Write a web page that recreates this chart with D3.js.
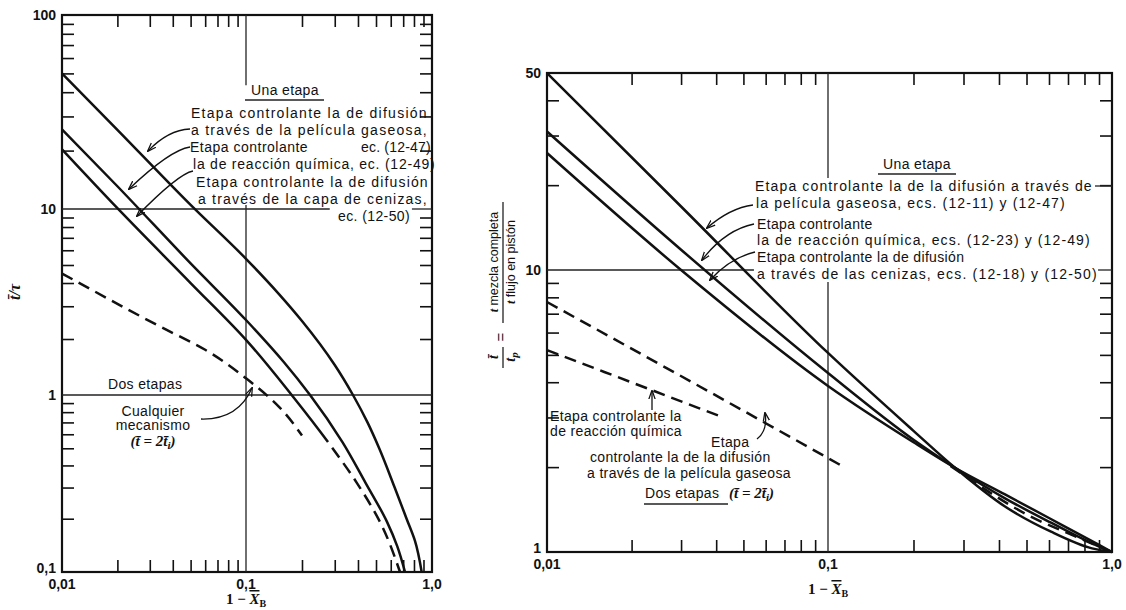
<!DOCTYPE html>
<html>
<head>
<meta charset="UTF-8">
<script src="https://d3js.org/d3.v7.min.js"></script>
<style>
  body { margin: 0; background: #fff; }
  svg text { font-family: "Liberation Sans", Arial, sans-serif; fill: #111; }
  .lbl { font-size: 14px; letter-spacing: 0.35px; }
  .tick-lbl { font-size: 14px; font-weight: bold; }
  .curve { fill: none; stroke: #111; stroke-width: 2.5; }
  .dash { stroke-dasharray: 12, 7; }
  .grid { stroke: #222; stroke-width: 1.3; }
  .frame { fill: none; stroke: #111; stroke-width: 2.2; }
  .arrow { fill: none; stroke: #111; stroke-width: 1.3; }
  .serif { font-family: "Liberation Serif", "DejaVu Serif", serif !important; }
</style>
</head>
<body>
<div id="chart"></div>
<script>
// ---- data: [1 - X_B, value] ----
// left panel, t/tau (mixed flow, one stage)
var leftFilm = [[0.01, 50], [0.02, 25.6], [0.05, 10.5], [0.1, 5.4], [0.15, 3.5], [0.2, 2.5], [0.3, 1.45], [0.376, 1], [0.45, 0.7], [0.52, 0.5], [0.63, 0.3], [0.73, 0.2], [0.81, 0.15], [0.88, 0.1]];
var leftReaction = [[0.01, 25.7], [0.02, 13.1], [0.05, 5.1], [0.1, 2.53], [0.16, 1.5], [0.221, 1], [0.33, 0.542], [0.44, 0.318], [0.573, 0.192], [0.65, 0.14], [0.716, 0.1]];
var leftAsh = [[0.01, 20.3], [0.02, 10.1], [0.05, 4.0], [0.1, 1.98], [0.176, 1], [0.276, 0.542]];
var leftAshTail = [[0.395, 0.318], [0.525, 0.192], [0.673, 0.1]];   // drawn dashed
var leftTwoStage = [[0.01, 4.5], [0.0345, 2.32], [0.06, 1.75], [0.1, 1.23], [0.15, 0.86], [0.2, 0.59]];

// right panel, t_mixed / t_plug
var rightFilm = [[0.01, 50], [0.03, 16.8], [0.1, 5.08], [0.2, 2.69], [0.28, 1.99], [0.42, 1.45], [0.61, 1.18], [0.85, 1.03], [1, 1]];
var rightReaction = [[0.01, 31], [0.03, 11.8], [0.1, 4.31], [0.2, 2.5], [0.28, 1.99], [0.42, 1.55], [0.61, 1.27], [0.91, 1.04], [1, 1]];
var rightAsh = [[0.01, 26], [0.03, 10], [0.1, 3.88], [0.2, 2.45], [0.28, 1.99], [0.42, 1.6], [0.6, 1.32], [0.9, 1.06], [1, 1]];
var rightTwoFilm = [[0.01, 7.7], [0.0445, 3.38], [0.11, 2.04]];
var rightTwoReaction = [[0.01, 5.2], [0.0236, 3.75], [0.042, 3.01]];
var rightTwoTail = [[0.27, 2.02], [0.5, 1.36], [0.8, 1.1], [0.97, 1.01]];

// ticks
var xMinor = [0.02, 0.03, 0.04, 0.05, 0.06, 0.07, 0.08, 0.09, 0.2, 0.3, 0.4, 0.5, 0.6, 0.7, 0.8, 0.9];
var yMinorLeft = [0.2, 0.3, 0.4, 0.5, 0.6, 0.7, 0.8, 0.9, 2, 3, 4, 5, 6, 7, 8, 9, 20, 30, 40, 50, 60, 70, 80, 90];
var yMinorRight = [2, 3, 4, 5, 6, 7, 8, 9, 20, 30, 40];
var xLabels = [[0.01, "0,01"], [0.1, "0,1"], [1, "1,0"]];
var yLabelsLeft = [[100, "100"], [10, "10"], [1, "1"], [0.1, "0,1"]];
var yLabelsRight = [[50, "50"], [10, "10"], [1, "1"]];

var svg = d3.select("#chart").append("svg").attr("width", 1126).attr("height", 610);

var defs = svg.append("defs");
defs.append("marker").attr("id", "ah")
  .attr("viewBox", "0 -5 10 10").attr("refX", 9).attr("refY", 0)
  .attr("markerWidth", 9).attr("markerHeight", 9).attr("markerUnits", "userSpaceOnUse")
  .attr("orient", "auto")
  .append("path").attr("d", "M0,-3.5L10,0L0,3.5").attr("fill", "none").attr("stroke", "#111").attr("stroke-width", 1.4);

// scales (scan is slightly uneven, so piecewise log)
var xL = d3.scaleLog().domain([0.01, 0.1, 1]).range([62, 246, 432]);
var yL = d3.scaleLog().domain([100, 10, 1, 0.1]).range([15, 209, 395, 572]);
var xR = d3.scaleLog().domain([0.01, 0.1, 1]).range([547, 828, 1112]);
var yR = d3.scaleLog().domain([50, 10, 1]).range([73, 270, 552]);

function frame(x, y, yt, xlab, ylab, titleY) {
  var g = svg.append("g");
  var xr = x.range(), yr = y.range();
  var x0 = xr[0], x1 = xr[xr.length - 1], y0 = yr[0], y1 = yr[yr.length - 1];
  var fix = function(a) {
    a.select(".domain").remove();
    a.selectAll("line").attr("stroke", "#111").attr("stroke-width", 1.6);
  };
  g.append("g").attr("transform", "translate(0," + y1 + ")")
    .call(d3.axisBottom(x).tickValues(xMinor).tickSizeInner(-12).tickSizeOuter(0).tickFormat("")).call(fix);
  g.append("g").attr("transform", "translate(0," + y0 + ")")
    .call(d3.axisTop(x).tickValues(xMinor).tickSizeInner(-12).tickSizeOuter(0).tickFormat("")).call(fix);
  g.append("g").attr("transform", "translate(" + x0 + ",0)")
    .call(d3.axisLeft(y).tickValues(yt).tickSizeInner(-12).tickSizeOuter(0).tickFormat("")).call(fix);
  g.append("g").attr("transform", "translate(" + x1 + ",0)")
    .call(d3.axisRight(y).tickValues(yt).tickSizeInner(-12).tickSizeOuter(0).tickFormat("")).call(fix);
  g.append("rect").attr("class", "frame")
    .attr("x", x0).attr("y", y0).attr("width", x1 - x0).attr("height", y1 - y0);

  g.selectAll(".xl").data(xlab).enter().append("text").attr("class", "tick-lbl")
    .attr("x", function(d) { return x(d[0]); }).attr("y", y1 + 17)
    .attr("text-anchor", "middle").text(function(d) { return d[1]; });
  g.selectAll(".yl").data(ylab).enter().append("text").attr("class", "tick-lbl")
    .attr("x", x0 - 6).attr("y", function(d, i) { return y(d[0]) + (i === ylab.length - 1 ? 1 : 5); })
    .attr("text-anchor", "end").text(function(d) { return d[1]; });

  // 1 - X_B title
  var t = g.append("text").attr("class", "serif")
    .attr("x", x(0.1)).attr("y", titleY).attr("text-anchor", "middle")
    .style("font-size", "15px").style("font-weight", "bold");
  t.append("tspan").text("1 \u2212 ");
  t.append("tspan").style("font-style", "italic").style("text-decoration", "overline").text("X");
  t.append("tspan").attr("dy", 3).style("font-size", "10px").text("B");
  return g;
}

function seg(x, y, a, b) {
  // grid segment between two data points
  svg.append("line").attr("class", "grid")
    .attr("x1", x(a[0])).attr("y1", y(a[1])).attr("x2", x(b[0])).attr("y2", y(b[1]));
}

function curve(x, y, data, kind, dashed) {
  var line = d3.line().x(function(d) { return x(d[0]); }).y(function(d) { return y(d[1]); })
    .curve(kind);
  return svg.append("path").datum(data).attr("class", "curve" + (dashed ? " dash" : "")).attr("d", line);
}

// one smooth path, solid up to the last solid point and dashed after it
function curveSplit(x, y, solid, tail, kind) {
  var p = curve(x, y, solid.concat(tail), kind);
  var node = p.node(), L = node.getTotalLength();
  var target = x(solid[solid.length - 1][0]), lo = 0, hi = L;
  for (var i = 0; i < 30; i++) {
    var mid = (lo + hi) / 2;
    if (node.getPointAtLength(mid).x < target) lo = mid; else hi = mid;
  }
  var pat = [lo];
  for (var s = lo; s < L + 20; s += 19) pat.push(7, 12);
  pat.push(1000);
  p.style("stroke-dasharray", pat.join(","));
}

function arrow(p) {
  svg.append("path").attr("class", "arrow")
    .attr("d", "M" + p[0] + "Q" + p[1] + " " + p[2]).attr("marker-end", "url(#ah)");
}

function lines(rows, anchor) {
  rows.forEach(function(r) {
    var t = svg.append("text").attr("class", "lbl").attr("x", r[0]).attr("y", r[1])
      .attr("text-anchor", anchor || "start").text(r[2]);
    if (r[3]) t.attr("textLength", r[3]).attr("lengthAdjust", "spacing");
  });
}

// ---------------- left panel ----------------
frame(xL, yL, yMinorLeft, xLabels, yLabelsLeft, 604);
seg(xL, yL, [0.1, 100], [0.1, 43.5]);
seg(xL, yL, [0.1, 10.5], [0.1, 0.1]);
seg(xL, yL, [0.01, 10], [0.282, 10]);
seg(xL, yL, [0.78, 10], [1, 10]);
seg(xL, yL, [0.01, 1], [1, 1]);

curve(xL, yL, leftFilm, d3.curveMonotoneY);
curve(xL, yL, leftReaction, d3.curveMonotoneY);
curveSplit(xL, yL, leftAsh, leftAshTail, d3.curveMonotoneY);
curve(xL, yL, leftTwoStage, d3.curveMonotoneY, true);

lines([
  [191, 118, "Etapa controlante la de difusión", 236],
  [191, 135, "a través de la película gaseosa,", 236],
  [190, 152, "Etapa controlante", 118],
  [361, 152, "ec. (12-47)", 70],
  [193, 169, "la de reacción química, ec. (12-49)", 242],
  [196, 187, "Etapa controlante la de difusión", 232],
  [198, 204, "a través de la capa de cenizas,", 229],
  [338, 221, "ec. (12-50)", 72]
]);
lines([[285, 95, "Una etapa"]], "middle");
svg.append("line").attr("class", "grid").attr("x1", 245).attr("x2", 324).attr("y1", 100).attr("y2", 100);

arrow([[190, 129], [168, 130], [148, 151]]);
arrow([[190, 147], [170, 150], [129, 189]]);
arrow([[193, 171], [178, 174], [137, 216]]);

lines([[108, 389, "Dos etapas"]]);
lines([[153, 416, "Cualquier"], [153, 430, "mecanismo"]], "middle");
var ti = svg.append("text").attr("class", "serif").attr("x", 153).attr("y", 446).attr("text-anchor", "middle")
  .style("font-size", "15px").style("font-weight", "bold").style("font-style", "italic");
ti.append("tspan").text("(t\u0304 = 2t\u0304");
ti.append("tspan").attr("dy", 3).style("font-size", "11px").text("i");
ti.append("tspan").attr("dy", -3).text(")");
arrow([[201, 419], [238, 420], [252, 388]]);

// y title left
svg.append("text").attr("class", "serif").attr("transform", "translate(20,292) rotate(-90)")
  .attr("text-anchor", "middle").style("font-size", "16px").style("font-weight", "bold").style("font-style", "italic")
  .text("t\u0304/\u03c4");

// ---------------- right panel ----------------
frame(xR, yR, yMinorRight, xLabels, yLabelsRight, 594);
seg(xR, yR, [0.1, 50], [0.1, 21.2]);
seg(xR, yR, [0.1, 9.07], [0.1, 1]);
seg(xR, yR, [0.01, 10], [0.0545, 10]);
seg(xR, yR, [0.893, 10], [1, 10]);

curve(xR, yR, rightFilm, d3.curveMonotoneX);
curve(xR, yR, rightReaction, d3.curveMonotoneX);
curve(xR, yR, rightAsh, d3.curveMonotoneX);
curve(xR, yR, rightTwoFilm, d3.curveMonotoneX, true);
curve(xR, yR, rightTwoReaction, d3.curveMonotoneX, true);
curve(xR, yR, rightTwoTail, d3.curveMonotoneX, true);

lines([[917, 169, "Una etapa"]], "middle");
svg.append("line").attr("class", "grid").attr("x1", 878).attr("x2", 956).attr("y1", 174).attr("y2", 174);
lines([
  [755, 191, "Etapa controlante la de la difusión a través de", 337],
  [756, 208, "la película gaseosa, ecs. (12-11) y (12-47)", 309],
  [757, 229, "Etapa controlante"],
  [757, 245, "la de reacción química, ecs. (12-23) y (12-49)", 333],
  [757, 262, "Etapa controlante la de difusión"],
  [757, 279, "a través de las cenizas, ecs. (12-18) y (12-50)", 340]
]);
svg.append("line").attr("class", "grid").attr("x1", 1095).attr("x2", 1112).attr("y1", 186).attr("y2", 186);
arrow([[753, 205], [730, 208], [707, 228]]);
arrow([[754, 224], [725, 230], [702, 260]]);
arrow([[755, 252], [730, 258], [710, 280]]);

lines([
  [550, 421, "Etapa controlante la"],
  [550, 436, "de reacción química"],
  [711, 447, "Etapa"],
  [590, 462, "controlante la de la difusión"],
  [587, 478, "a través de la película gaseosa"]
]);
lines([[645, 498, "Dos etapas"]]);
svg.append("line").attr("class", "grid").attr("x1", 644).attr("x2", 728).attr("y1", 504).attr("y2", 504);
var t2 = svg.append("text").attr("class", "serif").attr("x", 729).attr("y", 498)
  .style("font-size", "15px").style("font-weight", "bold").style("font-style", "italic");
t2.append("tspan").text("(t\u0304 = 2t\u0304");
t2.append("tspan").attr("dy", 3).style("font-size", "11px").text("i");
t2.append("tspan").attr("dy", -3).text(")");
arrow([[652, 410], [652, 400], [652, 391]]);
arrow([[757, 439], [768, 430], [765, 413]]);

// y title right: t/tp = t mezcla completa / t flujo en piston (rotated)
var yt = svg.append("g");
function rot(x, y, size, parts) {
  var t = yt.append("text").attr("transform", "translate(" + x + "," + y + ") rotate(-90)")
    .attr("text-anchor", "middle").style("font-size", size + "px");
  parts.forEach(function(p) {
    var s = t.append("tspan").text(p[0]);
    if (p[1]) s.attr("class", "serif").style("font-style", "italic").style("font-weight", "bold");
    if (p[2]) s.attr("dy", p[2]).style("font-size", (size - 3) + "px");
  });
}
rot(498, 357, 14, [["t\u0304", true]]);
yt.append("line").attr("class", "grid").attr("x1", 503).attr("x2", 503).attr("y1", 347).attr("y2", 368);
rot(515, 357, 14, [["t", true], ["p", true, 3]]);
rot(506, 337, 15, [["="]]);
rot(498, 262, 12.5, [["t ", true], ["mezcla completa"]]);
yt.append("line").attr("class", "grid").attr("x1", 503).attr("x2", 503).attr("y1", 202).attr("y2", 323);
rot(515, 262, 12.5, [["t ", true], ["flujo en pistón"]]);
</script>
</body>
</html>
